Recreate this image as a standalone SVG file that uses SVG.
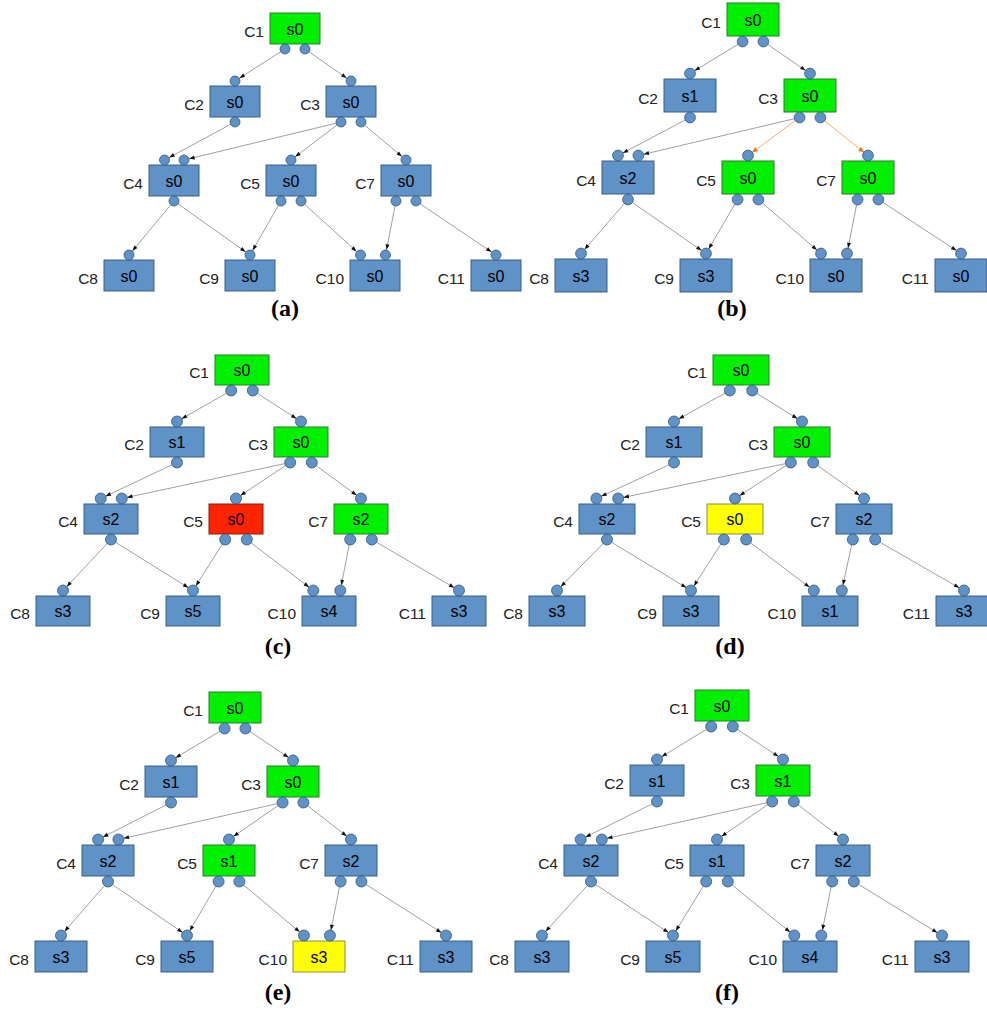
<svg xmlns="http://www.w3.org/2000/svg" width="987" height="1010" viewBox="0 0 987 1010">
<style>
rect.b{fill:#5f92c6;stroke:#3d5f86;stroke-width:1}
rect.g{fill:#00f000;stroke:#2f7a2f;stroke-width:1}
rect.r{fill:#ff2400;stroke:#7a2010;stroke-width:1}
rect.y{fill:#ffff00;stroke:#8a8a50;stroke-width:1}
circle{fill:#5f92c6;stroke:#34577e;stroke-width:0.8}
text{font-family:"Liberation Sans",Arial,sans-serif}
.st{text-anchor:middle;fill:#000;font-size:16px}
.lbl{text-anchor:end;fill:#222;font-size:15.5px}
.cap{font-family:"Liberation Serif","Times New Roman",serif;font-size:24px;font-weight:bold;text-anchor:middle;fill:#000}
.e{stroke:#777;stroke-width:0.7;fill:none;marker-end:url(#ah)}
.o{stroke:#f7a35c;stroke-width:0.9;fill:none;marker-end:url(#aho)}
</style>
<defs>
<marker id="ah" markerUnits="userSpaceOnUse" markerWidth="12" markerHeight="5" refX="10.8" refY="2" orient="auto" overflow="visible"><path d="M0,0 L5.5,2 L0,4 z" fill="#111"/></marker>
<marker id="aho" markerUnits="userSpaceOnUse" markerWidth="12" markerHeight="6" refX="10.8" refY="2.5" orient="auto" overflow="visible"><path d="M0,0 L6,2.5 L0,5 z" fill="#f07a1a"/></marker>
</defs>
<rect width="987" height="1010" fill="#fff"/>

<!-- Panel (a) -->
<g id="panel-a">
<g id="a-connectors">
<line class="e" x1="285" y1="49" x2="235" y2="81"/>
<line class="e" x1="305" y1="49" x2="351" y2="81"/>
<line class="e" x1="235" y1="122" x2="164.5" y2="160"/>
<line class="e" x1="341" y1="122" x2="184" y2="160"/>
<line class="e" x1="341" y1="122" x2="291" y2="160"/>
<line class="e" x1="361" y1="122" x2="406" y2="160"/>
<line class="e" x1="174" y1="201" x2="129" y2="255"/>
<line class="e" x1="174" y1="201" x2="250" y2="255"/>
<line class="e" x1="281" y1="201" x2="250" y2="255"/>
<line class="e" x1="301" y1="201" x2="360.5" y2="255"/>
<line class="e" x1="396" y1="201" x2="385.5" y2="255"/>
<line class="e" x1="416" y1="201" x2="496" y2="255"/>
</g>
<g id="a-C1"><rect class="g" x="270" y="13" width="50" height="31"/><text class="st" x="295" y="34.5">s0</text><text class="lbl" x="264" y="36.5">C1</text><circle cx="285" cy="49" r="5"/><circle cx="305" cy="49" r="5"/></g>
<g id="a-C2"><rect class="b" x="210" y="86" width="50" height="31"/><text class="st" x="235" y="107.5">s0</text><text class="lbl" x="204" y="109.5">C2</text><circle cx="235" cy="81" r="5"/><circle cx="235" cy="122" r="5"/></g>
<g id="a-C3"><rect class="b" x="326" y="86" width="50" height="31"/><text class="st" x="351" y="107.5">s0</text><text class="lbl" x="320" y="109.5">C3</text><circle cx="351" cy="81" r="5"/><circle cx="341" cy="122" r="5"/><circle cx="361" cy="122" r="5"/></g>
<g id="a-C4"><rect class="b" x="149" y="165" width="50" height="31"/><text class="st" x="174" y="186.5">s0</text><text class="lbl" x="143" y="188.5">C4</text><circle cx="164.5" cy="160" r="5"/><circle cx="184" cy="160" r="5"/><circle cx="174" cy="201" r="5"/></g>
<g id="a-C5"><rect class="b" x="266" y="165" width="50" height="31"/><text class="st" x="291" y="186.5">s0</text><text class="lbl" x="260" y="188.5">C5</text><circle cx="291" cy="160" r="5"/><circle cx="281" cy="201" r="5"/><circle cx="301" cy="201" r="5"/></g>
<g id="a-C7"><rect class="b" x="381" y="165" width="50" height="31"/><text class="st" x="406" y="186.5">s0</text><text class="lbl" x="375" y="188.5">C7</text><circle cx="406" cy="160" r="5"/><circle cx="396" cy="201" r="5"/><circle cx="416" cy="201" r="5"/></g>
<g id="a-C8"><rect class="b" x="104" y="260" width="50" height="31"/><text class="st" x="129" y="281.5">s0</text><text class="lbl" x="98" y="283.5">C8</text><circle cx="129" cy="255" r="5"/></g>
<g id="a-C9"><rect class="b" x="225" y="260" width="50" height="31"/><text class="st" x="250" y="281.5">s0</text><text class="lbl" x="219" y="283.5">C9</text><circle cx="250" cy="255" r="5"/></g>
<g id="a-C10"><rect class="b" x="350" y="260" width="50" height="31"/><text class="st" x="375" y="281.5">s0</text><text class="lbl" x="344" y="283.5">C10</text><circle cx="360.5" cy="255" r="5"/><circle cx="385.5" cy="255" r="5"/></g>
<g id="a-C11"><rect class="b" x="471" y="260" width="50" height="31"/><text class="st" x="496" y="281.5">s0</text><text class="lbl" x="465" y="283.5">C11</text><circle cx="496" cy="255" r="5"/></g>
<text class="cap" x="285" y="316">(a)</text>
</g>

<!-- Panel (b) -->
<g id="panel-b">
<g id="b-connectors">
<line class="e" x1="742.6" y1="41.5" x2="690" y2="73.5"/>
<line class="e" x1="763.4" y1="41.5" x2="810" y2="73.5"/>
<line class="e" x1="690" y1="117.5" x2="618" y2="155.5"/>
<line class="e" x1="799.6" y1="117.5" x2="638.4" y2="155.5"/>
<line class="o" x1="799.6" y1="117.5" x2="748" y2="155.5"/>
<line class="o" x1="820.4" y1="117.5" x2="868" y2="155.5"/>
<line class="e" x1="628" y1="199.5" x2="581" y2="253.5"/>
<line class="e" x1="628" y1="199.5" x2="706" y2="253.5"/>
<line class="e" x1="737.6" y1="199.5" x2="706" y2="253.5"/>
<line class="e" x1="758.4" y1="199.5" x2="821" y2="253.5"/>
<line class="e" x1="857.6" y1="199.5" x2="847" y2="253.5"/>
<line class="e" x1="878.4" y1="199.5" x2="961" y2="253.5"/>
</g>
<g id="b-C1"><rect class="g" x="727" y="3" width="52" height="33"/><text class="st" x="753" y="25.5">s0</text><text class="lbl" x="721" y="27.5">C1</text><circle cx="742.6" cy="41.5" r="5.4"/><circle cx="763.4" cy="41.5" r="5.4"/></g>
<g id="b-C2"><rect class="b" x="664" y="79" width="52" height="33"/><text class="st" x="690" y="101.5">s1</text><text class="lbl" x="658" y="103.5">C2</text><circle cx="690" cy="73.5" r="5.4"/><circle cx="690" cy="117.5" r="5.4"/></g>
<g id="b-C3"><rect class="g" x="784" y="79" width="52" height="33"/><text class="st" x="810" y="101.5">s0</text><text class="lbl" x="778" y="103.5">C3</text><circle cx="810" cy="73.5" r="5.4"/><circle cx="799.6" cy="117.5" r="5.4"/><circle cx="820.4" cy="117.5" r="5.4"/></g>
<g id="b-C4"><rect class="b" x="602" y="161" width="52" height="33"/><text class="st" x="628" y="183.5">s2</text><text class="lbl" x="596" y="185.5">C4</text><circle cx="618" cy="155.5" r="5.4"/><circle cx="638.4" cy="155.5" r="5.4"/><circle cx="628" cy="199.5" r="5.4"/></g>
<g id="b-C5"><rect class="g" x="722" y="161" width="52" height="33"/><text class="st" x="748" y="183.5">s0</text><text class="lbl" x="716" y="185.5">C5</text><circle cx="748" cy="155.5" r="5.4"/><circle cx="737.6" cy="199.5" r="5.4"/><circle cx="758.4" cy="199.5" r="5.4"/></g>
<g id="b-C7"><rect class="g" x="842" y="161" width="52" height="33"/><text class="st" x="868" y="183.5">s0</text><text class="lbl" x="836" y="185.5">C7</text><circle cx="868" cy="155.5" r="5.4"/><circle cx="857.6" cy="199.5" r="5.4"/><circle cx="878.4" cy="199.5" r="5.4"/></g>
<g id="b-C8"><rect class="b" x="555" y="259" width="52" height="33"/><text class="st" x="581" y="281.5">s3</text><text class="lbl" x="549" y="283.5">C8</text><circle cx="581" cy="253.5" r="5.4"/></g>
<g id="b-C9"><rect class="b" x="680" y="259" width="52" height="33"/><text class="st" x="706" y="281.5">s3</text><text class="lbl" x="674" y="283.5">C9</text><circle cx="706" cy="253.5" r="5.4"/></g>
<g id="b-C10"><rect class="b" x="810" y="259" width="52" height="33"/><text class="st" x="836" y="281.5">s0</text><text class="lbl" x="804" y="283.5">C10</text><circle cx="821" cy="253.5" r="5.4"/><circle cx="847" cy="253.5" r="5.4"/></g>
<g id="b-C11"><rect class="b" x="935" y="259" width="52" height="33"/><text class="st" x="961" y="281.5">s0</text><text class="lbl" x="929" y="283.5">C11</text><circle cx="961" cy="253.5" r="5.4"/></g>
<text class="cap" x="732" y="316">(b)</text>
</g>

<!-- Panel (c) -->
<g id="panel-c">
<g id="c-connectors">
<line class="e" x1="231.2" y1="390.5" x2="177" y2="421.5"/>
<line class="e" x1="252.8" y1="390.5" x2="301" y2="421.5"/>
<line class="e" x1="177" y1="462.5" x2="100.7" y2="498.5"/>
<line class="e" x1="290.2" y1="462.5" x2="121.8" y2="498.5"/>
<line class="e" x1="290.2" y1="462.5" x2="236" y2="498.5"/>
<line class="e" x1="311.8" y1="462.5" x2="361" y2="498.5"/>
<line class="e" x1="111" y1="539.5" x2="63" y2="590.5"/>
<line class="e" x1="111" y1="539.5" x2="193" y2="590.5"/>
<line class="e" x1="225.2" y1="539.5" x2="193" y2="590.5"/>
<line class="e" x1="246.8" y1="539.5" x2="313.3" y2="590.5"/>
<line class="e" x1="350.2" y1="539.5" x2="340.3" y2="590.5"/>
<line class="e" x1="371.8" y1="539.5" x2="459" y2="590.5"/>
</g>
<g id="c-C1"><rect class="g" x="215" y="355" width="54" height="30"/><text class="st" x="242" y="376">s0</text><text class="lbl" x="209" y="378">C1</text><circle cx="231.2" cy="390.5" r="5.5"/><circle cx="252.8" cy="390.5" r="5.5"/></g>
<g id="c-C2"><rect class="b" x="150" y="427" width="54" height="30"/><text class="st" x="177" y="448">s1</text><text class="lbl" x="144" y="450">C2</text><circle cx="177" cy="421.5" r="5.5"/><circle cx="177" cy="462.5" r="5.5"/></g>
<g id="c-C3"><rect class="g" x="274" y="427" width="54" height="30"/><text class="st" x="301" y="448">s0</text><text class="lbl" x="268" y="450">C3</text><circle cx="301" cy="421.5" r="5.5"/><circle cx="290.2" cy="462.5" r="5.5"/><circle cx="311.8" cy="462.5" r="5.5"/></g>
<g id="c-C4"><rect class="b" x="84" y="504" width="54" height="30"/><text class="st" x="111" y="525">s2</text><text class="lbl" x="78" y="527">C4</text><circle cx="100.7" cy="498.5" r="5.5"/><circle cx="121.8" cy="498.5" r="5.5"/><circle cx="111" cy="539.5" r="5.5"/></g>
<g id="c-C5"><rect class="r" x="209" y="504" width="54" height="30"/><text class="st" x="236" y="525">s0</text><text class="lbl" x="203" y="527">C5</text><circle cx="236" cy="498.5" r="5.5"/><circle cx="225.2" cy="539.5" r="5.5"/><circle cx="246.8" cy="539.5" r="5.5"/></g>
<g id="c-C7"><rect class="g" x="334" y="504" width="54" height="30"/><text class="st" x="361" y="525">s2</text><text class="lbl" x="328" y="527">C7</text><circle cx="361" cy="498.5" r="5.5"/><circle cx="350.2" cy="539.5" r="5.5"/><circle cx="371.8" cy="539.5" r="5.5"/></g>
<g id="c-C8"><rect class="b" x="36" y="596" width="54" height="30"/><text class="st" x="63" y="617">s3</text><text class="lbl" x="30" y="619">C8</text><circle cx="63" cy="590.5" r="5.5"/></g>
<g id="c-C9"><rect class="b" x="166" y="596" width="54" height="30"/><text class="st" x="193" y="617">s5</text><text class="lbl" x="160" y="619">C9</text><circle cx="193" cy="590.5" r="5.5"/></g>
<g id="c-C10"><rect class="b" x="302" y="596" width="54" height="30"/><text class="st" x="329" y="617">s4</text><text class="lbl" x="296" y="619">C10</text><circle cx="313.3" cy="590.5" r="5.5"/><circle cx="340.3" cy="590.5" r="5.5"/></g>
<g id="c-C11"><rect class="b" x="432" y="596" width="54" height="30"/><text class="st" x="459" y="617">s3</text><text class="lbl" x="426" y="619">C11</text><circle cx="459" cy="590.5" r="5.5"/></g>
<text class="cap" x="278" y="654">(c)</text>
</g>

<!-- Panel (d) -->
<g id="panel-d">
<g id="d-connectors">
<line class="e" x1="729.8" y1="390.5" x2="674" y2="421.5"/>
<line class="e" x1="752.2" y1="390.5" x2="802" y2="421.5"/>
<line class="e" x1="674" y1="462.5" x2="596.4" y2="498.5"/>
<line class="e" x1="790.8" y1="462.5" x2="618.2" y2="498.5"/>
<line class="e" x1="790.8" y1="462.5" x2="735" y2="498.5"/>
<line class="e" x1="813.2" y1="462.5" x2="864" y2="498.5"/>
<line class="e" x1="607" y1="539.5" x2="557" y2="590.5"/>
<line class="e" x1="607" y1="539.5" x2="691" y2="590.5"/>
<line class="e" x1="723.8" y1="539.5" x2="691" y2="590.5"/>
<line class="e" x1="746.2" y1="539.5" x2="813.8" y2="590.5"/>
<line class="e" x1="852.8" y1="539.5" x2="841.8" y2="590.5"/>
<line class="e" x1="875.2" y1="539.5" x2="964" y2="590.5"/>
</g>
<g id="d-C1"><rect class="g" x="713" y="355" width="56" height="30"/><text class="st" x="741" y="376">s0</text><text class="lbl" x="707" y="378">C1</text><circle cx="729.8" cy="390.5" r="5.5"/><circle cx="752.2" cy="390.5" r="5.5"/></g>
<g id="d-C2"><rect class="b" x="646" y="427" width="56" height="30"/><text class="st" x="674" y="448">s1</text><text class="lbl" x="640" y="450">C2</text><circle cx="674" cy="421.5" r="5.5"/><circle cx="674" cy="462.5" r="5.5"/></g>
<g id="d-C3"><rect class="g" x="774" y="427" width="56" height="30"/><text class="st" x="802" y="448">s0</text><text class="lbl" x="768" y="450">C3</text><circle cx="802" cy="421.5" r="5.5"/><circle cx="790.8" cy="462.5" r="5.5"/><circle cx="813.2" cy="462.5" r="5.5"/></g>
<g id="d-C4"><rect class="b" x="579" y="504" width="56" height="30"/><text class="st" x="607" y="525">s2</text><text class="lbl" x="573" y="527">C4</text><circle cx="596.4" cy="498.5" r="5.5"/><circle cx="618.2" cy="498.5" r="5.5"/><circle cx="607" cy="539.5" r="5.5"/></g>
<g id="d-C5"><rect class="y" x="707" y="504" width="56" height="30"/><text class="st" x="735" y="525">s0</text><text class="lbl" x="701" y="527">C5</text><circle cx="735" cy="498.5" r="5.5"/><circle cx="723.8" cy="539.5" r="5.5"/><circle cx="746.2" cy="539.5" r="5.5"/></g>
<g id="d-C7"><rect class="b" x="836" y="504" width="56" height="30"/><text class="st" x="864" y="525">s2</text><text class="lbl" x="830" y="527">C7</text><circle cx="864" cy="498.5" r="5.5"/><circle cx="852.8" cy="539.5" r="5.5"/><circle cx="875.2" cy="539.5" r="5.5"/></g>
<g id="d-C8"><rect class="b" x="529" y="596" width="56" height="30"/><text class="st" x="557" y="617">s3</text><text class="lbl" x="523" y="619">C8</text><circle cx="557" cy="590.5" r="5.5"/></g>
<g id="d-C9"><rect class="b" x="663" y="596" width="56" height="30"/><text class="st" x="691" y="617">s3</text><text class="lbl" x="657" y="619">C9</text><circle cx="691" cy="590.5" r="5.5"/></g>
<g id="d-C10"><rect class="b" x="802" y="596" width="56" height="30"/><text class="st" x="830" y="617">s1</text><text class="lbl" x="796" y="619">C10</text><circle cx="813.8" cy="590.5" r="5.5"/><circle cx="841.8" cy="590.5" r="5.5"/></g>
<g id="d-C11"><rect class="b" x="936" y="596" width="56" height="30"/><text class="st" x="964" y="617">s3</text><text class="lbl" x="930" y="619">C11</text><circle cx="964" cy="590.5" r="5.5"/></g>
<text class="cap" x="730" y="654">(d)</text>
</g>

<!-- Panel (e) -->
<g id="panel-e">
<g id="e-connectors">
<line class="e" x1="224.6" y1="728.5" x2="171" y2="760.5"/>
<line class="e" x1="245.4" y1="728.5" x2="293" y2="760.5"/>
<line class="e" x1="171" y1="802.5" x2="98.1" y2="839.5"/>
<line class="e" x1="282.6" y1="802.5" x2="118.4" y2="839.5"/>
<line class="e" x1="282.6" y1="802.5" x2="229" y2="839.5"/>
<line class="e" x1="303.4" y1="802.5" x2="351" y2="839.5"/>
<line class="e" x1="108" y1="881.5" x2="61" y2="935.5"/>
<line class="e" x1="108" y1="881.5" x2="187" y2="935.5"/>
<line class="e" x1="218.6" y1="881.5" x2="187" y2="935.5"/>
<line class="e" x1="239.4" y1="881.5" x2="303.9" y2="935.5"/>
<line class="e" x1="340.6" y1="881.5" x2="329.9" y2="935.5"/>
<line class="e" x1="361.4" y1="881.5" x2="446" y2="935.5"/>
</g>
<g id="e-C1"><rect class="g" x="209" y="692" width="52" height="31"/><text class="st" x="235" y="713.5">s0</text><text class="lbl" x="203" y="715.5">C1</text><circle cx="224.6" cy="728.5" r="5.5"/><circle cx="245.4" cy="728.5" r="5.5"/></g>
<g id="e-C2"><rect class="b" x="145" y="766" width="52" height="31"/><text class="st" x="171" y="787.5">s1</text><text class="lbl" x="139" y="789.5">C2</text><circle cx="171" cy="760.5" r="5.5"/><circle cx="171" cy="802.5" r="5.5"/></g>
<g id="e-C3"><rect class="g" x="267" y="766" width="52" height="31"/><text class="st" x="293" y="787.5">s0</text><text class="lbl" x="261" y="789.5">C3</text><circle cx="293" cy="760.5" r="5.5"/><circle cx="282.6" cy="802.5" r="5.5"/><circle cx="303.4" cy="802.5" r="5.5"/></g>
<g id="e-C4"><rect class="b" x="82" y="845" width="52" height="31"/><text class="st" x="108" y="866.5">s2</text><text class="lbl" x="76" y="868.5">C4</text><circle cx="98.1" cy="839.5" r="5.5"/><circle cx="118.4" cy="839.5" r="5.5"/><circle cx="108" cy="881.5" r="5.5"/></g>
<g id="e-C5"><rect class="g" x="203" y="845" width="52" height="31"/><text class="st" x="229" y="866.5">s1</text><text class="lbl" x="197" y="868.5">C5</text><circle cx="229" cy="839.5" r="5.5"/><circle cx="218.6" cy="881.5" r="5.5"/><circle cx="239.4" cy="881.5" r="5.5"/></g>
<g id="e-C7"><rect class="b" x="325" y="845" width="52" height="31"/><text class="st" x="351" y="866.5">s2</text><text class="lbl" x="319" y="868.5">C7</text><circle cx="351" cy="839.5" r="5.5"/><circle cx="340.6" cy="881.5" r="5.5"/><circle cx="361.4" cy="881.5" r="5.5"/></g>
<g id="e-C8"><rect class="b" x="35" y="941" width="52" height="31"/><text class="st" x="61" y="962.5">s3</text><text class="lbl" x="29" y="964.5">C8</text><circle cx="61" cy="935.5" r="5.5"/></g>
<g id="e-C9"><rect class="b" x="161" y="941" width="52" height="31"/><text class="st" x="187" y="962.5">s5</text><text class="lbl" x="155" y="964.5">C9</text><circle cx="187" cy="935.5" r="5.5"/></g>
<g id="e-C10"><rect class="y" x="293" y="941" width="52" height="31"/><text class="st" x="319" y="962.5">s3</text><text class="lbl" x="287" y="964.5">C10</text><circle cx="303.9" cy="935.5" r="5.5"/><circle cx="329.9" cy="935.5" r="5.5"/></g>
<g id="e-C11"><rect class="b" x="420" y="941" width="52" height="31"/><text class="st" x="446" y="962.5">s3</text><text class="lbl" x="414" y="964.5">C11</text><circle cx="446" cy="935.5" r="5.5"/></g>
<text class="cap" x="278" y="1000">(e)</text>
</g>

<!-- Panel (f) -->
<g id="panel-f">
<g id="f-connectors">
<line class="e" x1="711.2" y1="726.5" x2="657" y2="759.5"/>
<line class="e" x1="732.8" y1="726.5" x2="783" y2="759.5"/>
<line class="e" x1="657" y1="801.5" x2="580.7" y2="839.5"/>
<line class="e" x1="772.2" y1="801.5" x2="601.8" y2="839.5"/>
<line class="e" x1="772.2" y1="801.5" x2="717" y2="839.5"/>
<line class="e" x1="793.8" y1="801.5" x2="843" y2="839.5"/>
<line class="e" x1="591" y1="881.5" x2="542" y2="935.5"/>
<line class="e" x1="591" y1="881.5" x2="673" y2="935.5"/>
<line class="e" x1="706.2" y1="881.5" x2="673" y2="935.5"/>
<line class="e" x1="727.8" y1="881.5" x2="794.3" y2="935.5"/>
<line class="e" x1="832.2" y1="881.5" x2="821.3" y2="935.5"/>
<line class="e" x1="853.8" y1="881.5" x2="942" y2="935.5"/>
</g>
<g id="f-C1"><rect class="g" x="695" y="690" width="54" height="31"/><text class="st" x="722" y="711.5">s0</text><text class="lbl" x="689" y="713.5">C1</text><circle cx="711.2" cy="726.5" r="5.5"/><circle cx="732.8" cy="726.5" r="5.5"/></g>
<g id="f-C2"><rect class="b" x="630" y="765" width="54" height="31"/><text class="st" x="657" y="786.5">s1</text><text class="lbl" x="624" y="788.5">C2</text><circle cx="657" cy="759.5" r="5.5"/><circle cx="657" cy="801.5" r="5.5"/></g>
<g id="f-C3"><rect class="g" x="756" y="765" width="54" height="31"/><text class="st" x="783" y="786.5">s1</text><text class="lbl" x="750" y="788.5">C3</text><circle cx="783" cy="759.5" r="5.5"/><circle cx="772.2" cy="801.5" r="5.5"/><circle cx="793.8" cy="801.5" r="5.5"/></g>
<g id="f-C4"><rect class="b" x="564" y="845" width="54" height="31"/><text class="st" x="591" y="866.5">s2</text><text class="lbl" x="558" y="868.5">C4</text><circle cx="580.7" cy="839.5" r="5.5"/><circle cx="601.8" cy="839.5" r="5.5"/><circle cx="591" cy="881.5" r="5.5"/></g>
<g id="f-C5"><rect class="b" x="690" y="845" width="54" height="31"/><text class="st" x="717" y="866.5">s1</text><text class="lbl" x="684" y="868.5">C5</text><circle cx="717" cy="839.5" r="5.5"/><circle cx="706.2" cy="881.5" r="5.5"/><circle cx="727.8" cy="881.5" r="5.5"/></g>
<g id="f-C7"><rect class="b" x="816" y="845" width="54" height="31"/><text class="st" x="843" y="866.5">s2</text><text class="lbl" x="810" y="868.5">C7</text><circle cx="843" cy="839.5" r="5.5"/><circle cx="832.2" cy="881.5" r="5.5"/><circle cx="853.8" cy="881.5" r="5.5"/></g>
<g id="f-C8"><rect class="b" x="515" y="941" width="54" height="31"/><text class="st" x="542" y="962.5">s3</text><text class="lbl" x="509" y="964.5">C8</text><circle cx="542" cy="935.5" r="5.5"/></g>
<g id="f-C9"><rect class="b" x="646" y="941" width="54" height="31"/><text class="st" x="673" y="962.5">s5</text><text class="lbl" x="640" y="964.5">C9</text><circle cx="673" cy="935.5" r="5.5"/></g>
<g id="f-C10"><rect class="b" x="783" y="941" width="54" height="31"/><text class="st" x="810" y="962.5">s4</text><text class="lbl" x="777" y="964.5">C10</text><circle cx="794.3" cy="935.5" r="5.5"/><circle cx="821.3" cy="935.5" r="5.5"/></g>
<g id="f-C11"><rect class="b" x="915" y="941" width="54" height="31"/><text class="st" x="942" y="962.5">s3</text><text class="lbl" x="909" y="964.5">C11</text><circle cx="942" cy="935.5" r="5.5"/></g>
<text class="cap" x="727" y="1000">(f)</text>
</g>
</svg>
